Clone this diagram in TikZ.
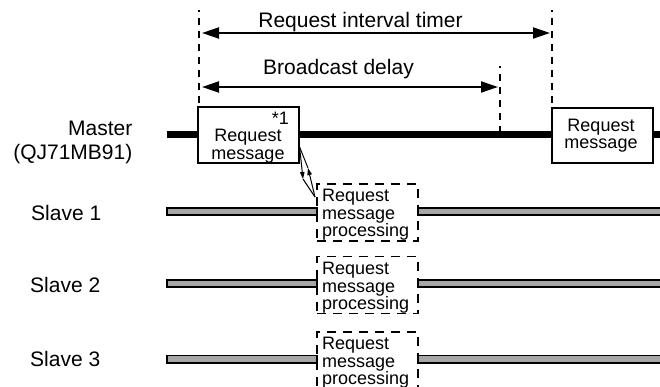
\documentclass[tikz,border=0pt]{standalone}
\usepackage{fontspec}
\setmainfont{Liberation Sans}
\usetikzlibrary{arrows.meta}
\begin{document}
\begin{tikzpicture}[x=1pt,y=-1pt,
  lbl/.style={font=\fontsize{21}{24}\selectfont, inner sep=0pt},
  boxtxt/.style={font=\fontsize{18}{17.5}\selectfont, inner sep=0pt},
  msgbox/.style={draw, fill=white, line width=1.2pt, minimum width=101pt, minimum height=56pt, inner sep=0pt},
  procbox/.style={draw, dash pattern=on 9pt off 7pt, line width=1.2pt, minimum width=101pt, minimum height=57pt, inner sep=0pt},
  guide/.style={line width=2.2pt, dash pattern=on 7pt off 6pt, dash phase=5pt},
  span/.style={line width=2pt, {Triangle[length=17pt,width=11pt]}-{Triangle[length=17pt,width=11pt]}},
  sbar/.style={draw, fill=gray!70, line width=1.6pt},
  bolt/.style={line width=1pt},
  bolttip/.style={bolt, -{Triangle[length=7pt,width=4.5pt]}},
]
\useasboundingbox (0,0) rectangle (660,387);

% master timeline
\fill (167,131.5) rectangle (662,138.5);
\node[msgbox] (m1) at (248.5,135) {};
\node[msgbox, minimum height=55pt] (m2) at (602.5,135.5) {};
\node[boxtxt, anchor=north, align=center] (m1t) at (248,129) {Request\\message};
\node[boxtxt, anchor=base east] (m1n) at (289,125) {*1};
\node[boxtxt, anchor=center, align=center] (m2t) at (601,135.5) {Request\\message};

% guide lines
\coordinate (g1t) at (199,10);
\coordinate (g2t) at (552,10);
\coordinate (g3t) at (500,66);
\coordinate (g3b) at (500,132);
\draw[guide] (g1t) -- (g1t |- m1.north);
\draw[guide] (g2t) -- (g2t |- m2.north);
\draw[guide] (g3t) -- (g3b);

% spans
\coordinate (a1) at (202,33);
\coordinate (a2) at (550,33);
\coordinate (b1) at (202,87);
\coordinate (b2) at (498,87);
\draw[span] (a1) -- (a2);
\draw[span] (b1) -- (b2);
\node[lbl, anchor=base] (rit) at (360.5,28) {Request interval timer};
\node[lbl, anchor=base] (bd) at (338.5,75) {Broadcast delay};

% left labels
\node[lbl, anchor=north east, align=right] (ml) at (132.5,121) {Master\\(QJ71MB91)};
\node[lbl, anchor=base west] (sl1) at (31,220) {Slave 1};
\node[lbl, anchor=base west] (sl2) at (30,292) {Slave 2};
\node[lbl, anchor=base west] (sl3) at (30,366) {Slave 3};

% slave timelines
\draw[sbar] (167,207.8) rectangle (317,215.2);
\draw[sbar] (418,207.8) rectangle (664,215.2);
\draw[sbar] (167,279.8) rectangle (317,287.2);
\draw[sbar] (418,279.8) rectangle (664,287.2);
\draw[sbar] (167,355.3) rectangle (317,362.7);
\draw[sbar] (418,355.3) rectangle (664,362.7);

% processing boxes
\node[procbox] (s1) at (367.5,212.5) {};
\node[procbox] (s2) at (367.5,285) {};
\node[procbox] (s3) at (367.5,360.5) {};
\node[boxtxt, anchor=north west, align=left] (s1t) at (322,189) {Request\\message\\processing};
\node[boxtxt, anchor=north west, align=left] (s2t) at (322,262) {Request\\message\\processing};
\node[boxtxt, anchor=north west, align=left] (s3t) at (322,337) {Request\\message\\processing};

% broadcast bolt
\coordinate (y0) at (0,147);
\coordinate (y3) at (0,197);
\coordinate (l0) at (m1.east |- y0);
\coordinate (l1) at (303,179);
\coordinate (l2) at (308,168);
\coordinate (l3) at (315,197);
\draw[bolttip] (l0) -- (l1);
\draw[bolt] (l1) -- (l3);
\draw[bolttip] (l3) -- (l2);
\draw[bolt] (l2) -- (l0);
\end{tikzpicture}
\end{document}
